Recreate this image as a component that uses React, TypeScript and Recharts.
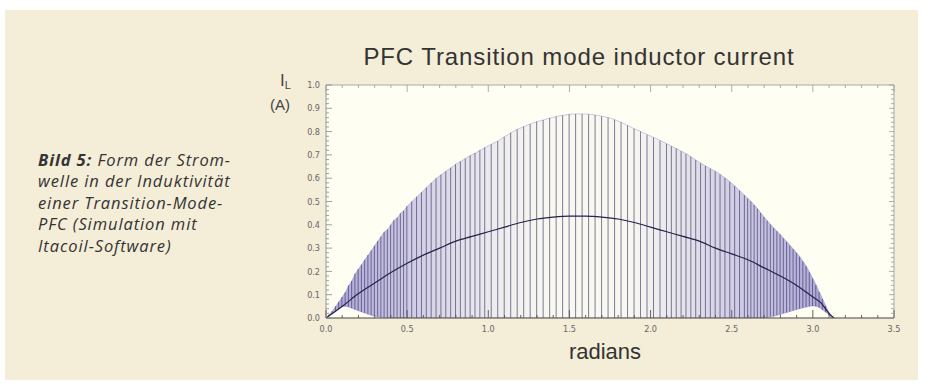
import { Area, Bar, CartesianGrid, ComposedChart, Line, XAxis, YAxis } from "recharts";

// switching cycles: x position (rad) and peak current (A)
const spikeX = [
  0, 0.02, 0.04, 0.06, 0.08, 0.1, 0.12, 0.14, 0.16, 0.18, 0.2, 0.22, 0.24, 0.26, 0.28, 0.3, 0.32, 0.34, 0.36, 0.38,
  0.4, 0.42, 0.44, 0.46, 0.48, 0.5,
  0.53, 0.56, 0.59, 0.62, 0.65, 0.68, 0.71, 0.74, 0.77, 0.8, 0.83, 0.86, 0.89, 0.92, 0.95, 0.98,
  1.02, 1.06, 1.1, 1.14, 1.18, 1.22, 1.26, 1.3, 1.34, 1.38, 1.42, 1.46, 1.5, 1.54, 1.58, 1.62, 1.66, 1.7, 1.74, 1.78,
  1.82, 1.86, 1.9, 1.94, 1.98, 2.02, 2.06, 2.1,
  2.13, 2.16, 2.19, 2.22, 2.25, 2.28, 2.31, 2.34, 2.37, 2.4, 2.43, 2.46, 2.49, 2.52, 2.55, 2.58,
  2.6, 2.62, 2.64, 2.66, 2.68, 2.7, 2.72, 2.74, 2.76, 2.78, 2.8, 2.82, 2.84, 2.86, 2.88, 2.9, 2.92, 2.94, 2.96, 2.98,
  3.0, 3.02, 3.04, 3.06, 3.08, 3.1, 3.12,
];
const spikePeak = [
  0, 0.015, 0.03, 0.05, 0.07, 0.09, 0.11, 0.14, 0.16, 0.19, 0.21, 0.23, 0.25, 0.27, 0.29, 0.31, 0.33, 0.35, 0.37, 0.38,
  0.4, 0.42, 0.43, 0.45, 0.46, 0.48,
  0.5, 0.52, 0.54, 0.56, 0.58, 0.6, 0.615, 0.63, 0.645, 0.66, 0.672, 0.685, 0.697, 0.708, 0.72, 0.732,
  0.746, 0.76, 0.778, 0.795, 0.81, 0.822, 0.833, 0.843, 0.85, 0.858, 0.865, 0.87, 0.874, 0.876, 0.876, 0.875, 0.871,
  0.866, 0.86, 0.851, 0.84, 0.826, 0.812, 0.8, 0.787, 0.775, 0.762, 0.748,
  0.737, 0.727, 0.716, 0.705, 0.692, 0.678, 0.664, 0.652, 0.641, 0.63, 0.616, 0.601, 0.585, 0.566, 0.546, 0.527,
  0.513, 0.5, 0.485, 0.469, 0.451, 0.433, 0.417, 0.401, 0.386, 0.372, 0.358, 0.342, 0.327, 0.311, 0.296, 0.28, 0.263,
  0.243, 0.222, 0.196, 0.17, 0.142, 0.112, 0.082, 0.052, 0.022, 0,
];

// lower edge of the shaded band near the zero crossings
const floorX = [
  0.02, 0.04, 0.06, 0.08, 0.1, 0.12, 0.14, 0.16, 0.18, 0.2, 0.22, 0.24, 0.26, 0.28, 0.3, 0.32, 0.34, 0.36, 0.38,
  2.72, 2.74, 2.76, 2.78, 2.8, 2.82, 2.84, 2.86, 2.88, 2.9, 2.92, 2.94, 2.96, 2.98, 3.0, 3.02, 3.04, 3.06, 3.08, 3.1,
];
const floorY = [
  0.01, 0.02, 0.03, 0.04, 0.048, 0.05, 0.047, 0.042, 0.036, 0.031, 0.026, 0.021, 0.016, 0.012, 0.008, 0.005, 0.003,
  0.002, 0.001,
  0.002, 0.005, 0.008, 0.012, 0.015, 0.02, 0.024, 0.028, 0.032, 0.036, 0.04, 0.044, 0.047, 0.05, 0.052, 0.05, 0.045,
  0.035, 0.025, 0.012,
];

// average current
const avgX = [
  0, 0.05, 0.1, 0.2, 0.3, 0.4, 0.5, 0.6, 0.7, 0.8, 0.9, 1.0, 1.1, 1.2, 1.3, 1.4, 1.5, 1.6, 1.7, 1.8, 1.9, 2.0, 2.1,
  2.2, 2.3, 2.4, 2.5, 2.6, 2.7, 2.8, 2.9, 3.0, 3.05, 3.1, 3.13,
];
const avgY = [
  0, 0.025, 0.05, 0.105, 0.15, 0.195, 0.235, 0.27, 0.3, 0.33, 0.35, 0.37, 0.39, 0.41, 0.425, 0.433, 0.437, 0.437,
  0.433, 0.425, 0.41, 0.39, 0.37, 0.35, 0.33, 0.3, 0.275, 0.25, 0.215, 0.18, 0.14, 0.09, 0.065, 0.02, 0,
];

const xMinor = [
  0, 0.1, 0.2, 0.3, 0.4, 0.5, 0.6, 0.7, 0.8, 0.9, 1, 1.1, 1.2, 1.3, 1.4, 1.5, 1.6, 1.7, 1.8, 1.9, 2, 2.1, 2.2, 2.3,
  2.4, 2.5, 2.6, 2.7, 2.8, 2.9, 3, 3.1, 3.2, 3.3, 3.4, 3.5,
];
const yMinor = [
  0, 0.02, 0.04, 0.06, 0.08, 0.1, 0.12, 0.14, 0.16, 0.18, 0.2, 0.22, 0.24, 0.26, 0.28, 0.3, 0.32, 0.34, 0.36, 0.38,
  0.4, 0.42, 0.44, 0.46, 0.48, 0.5, 0.52, 0.54, 0.56, 0.58, 0.6, 0.62, 0.64, 0.66, 0.68, 0.7, 0.72, 0.74, 0.76, 0.78,
  0.8, 0.82, 0.84, 0.86, 0.88, 0.9, 0.92, 0.94, 0.96, 0.98, 1,
];

const spikes = spikeX.map((x, i) => {
  const k = floorX.indexOf(x);
  return { x, peak: spikePeak[i], floor: k >= 0 ? floorY[k] : 0 };
});
const avgData = avgX.map((x, i) => ({ x, avg: avgY[i] }));

const isMajor = (v: number, step: number) => Math.abs(v / step - Math.round(v / step)) < 1e-6;
const tickFont = "'DejaVu Sans Condensed', 'DejaVu Sans', sans-serif";

const LeftTick = ({ x, y, payload }: any) => {
  const ax = x + 9;
  const major = isMajor(payload.value, 0.1);
  return (
    <g>
      <line x1={ax} x2={ax + (major ? 6 : 3)} y1={y} y2={y} stroke="#888" strokeWidth={0.8} />
      {major && (
        <text x={ax - 6} y={y} dy="0.35em" textAnchor="end" fontSize={9} fontFamily={tickFont} fill="#666">
          {payload.value.toFixed(1)}
        </text>
      )}
    </g>
  );
};

const RightTick = ({ x, y, payload }: any) => {
  const ax = x - 1;
  const major = isMajor(payload.value, 0.1);
  return <line x1={ax} x2={ax - (major ? 5 : 3)} y1={y} y2={y} stroke="#999" strokeWidth={0.8} />;
};

const BottomTick = ({ x, y, payload }: any) => {
  const ay = y - 9;
  const major = isMajor(payload.value, 0.5);
  return (
    <g>
      <line x1={x} x2={x} y1={ay} y2={ay - (major ? 8 : 3)} stroke="#555" strokeWidth={0.9} />
      {major && (
        <text x={x} y={ay + 8} dy="0.71em" textAnchor="middle" fontSize={9} fontFamily={tickFont} fill="#666">
          {payload.value.toFixed(1)}
        </text>
      )}
    </g>
  );
};

const TopTick = ({ x, y, payload }: any) => {
  const ay = y + 1;
  const major = isMajor(payload.value, 0.5);
  return <line x1={x} x2={x} y1={ay} y2={ay + (major ? 7 : 3)} stroke="#999" strokeWidth={0.8} />;
};

const captionStyle: React.CSSProperties = {
  position: "absolute",
  left: 38,
  fontFamily: "'Open Sans', 'Noto Sans', sans-serif",
  fontStyle: "italic",
  fontSize: 16.5,
  letterSpacing: 0.9,
  color: "#333",
  whiteSpace: "nowrap",
  lineHeight: "20px",
};

const captionLines = [
  "welle in der Induktivität",
  "einer Transition-Mode-",
  "PFC (Simulation mit",
  "Itacoil-Software)",
];

const sans = "'Liberation Sans', Arial, sans-serif";

export default function App() {
  return (
    <div style={{ position: "absolute", left: 0, top: 0, width: 926, height: 390, background: "#fff" }}>
      <div style={{ position: "absolute", left: 5, top: 10, width: 913, height: 370, background: "#f4edd8" }} />

      <div style={{ ...captionStyle, top: 150 }}>
        <b>Bild 5:</b> Form der Strom-
      </div>
      {captionLines.map((t, i) => (
        <div key={t} style={{ ...captionStyle, top: 171 + i * 21.5 }}>
          {t}
        </div>
      ))}

      <div
        style={{
          position: "absolute",
          left: 280,
          width: 598,
          top: 43,
          textAlign: "center",
          fontFamily: sans,
          fontSize: 24,
          letterSpacing: 0.9,
          lineHeight: "28px",
          color: "#333",
        }}
      >
        PFC Transition mode inductor current
      </div>

      <div
        style={{
          position: "absolute",
          left: 280,
          top: 72,
          fontFamily: sans,
          fontSize: 17,
          color: "#444",
          lineHeight: "17px",
        }}
      >
        I<sub style={{ fontSize: 11, verticalAlign: -3 }}>L</sub>
      </div>
      <div
        style={{
          position: "absolute",
          left: 270,
          top: 97,
          fontFamily: sans,
          fontSize: 15,
          color: "#444",
          lineHeight: "16px",
        }}
      >
        (A)
      </div>

      <div
        style={{
          position: "absolute",
          left: 505,
          width: 200,
          top: 340,
          textAlign: "center",
          fontFamily: sans,
          fontSize: 22,
          lineHeight: "24px",
          color: "#333",
        }}
      >
        radians
      </div>

      <div style={{ position: "absolute", left: 0, top: 0 }}>
        <ComposedChart
          width={926}
          height={390}
          data={spikes}
          margin={{ top: 83, right: 30, bottom: 42, left: 286 }}
        >
          <defs>
            <linearGradient id="band" x1="0" y1="0" x2="1" y2="0">
              <stop offset="0%" stopColor="#5b4fbd" stopOpacity={0.85} />
              <stop offset="8%" stopColor="#6357c2" stopOpacity={0.72} />
              <stop offset="20%" stopColor="#6a5fc6" stopOpacity={0.45} />
              <stop offset="33%" stopColor="#7a70c8" stopOpacity={0.22} />
              <stop offset="45%" stopColor="#8a82c8" stopOpacity={0.07} />
              <stop offset="60%" stopColor="#8a82c8" stopOpacity={0.09} />
              <stop offset="70%" stopColor="#7a70c8" stopOpacity={0.3} />
              <stop offset="80%" stopColor="#6a5fc6" stopOpacity={0.5} />
              <stop offset="90%" stopColor="#6357c2" stopOpacity={0.68} />
              <stop offset="100%" stopColor="#5b4fbd" stopOpacity={0.85} />
            </linearGradient>
          </defs>
          <CartesianGrid horizontal={false} vertical={false} fill="#fefef3" />
          <XAxis
            dataKey="x"
            type="number"
            domain={[0, 3.5]}
            ticks={xMinor}
            interval={0}
            tickSize={1}
            tickMargin={8}
            tickLine={false}
            tick={<BottomTick />}
            stroke="#4a4540"
            height={30}
            allowDataOverflow
          />
          <XAxis
            xAxisId="top"
            orientation="top"
            dataKey="x"
            type="number"
            domain={[0, 3.5]}
            ticks={xMinor}
            interval={0}
            tickSize={1}
            tickMargin={0}
            tickLine={false}
            tick={<TopTick />}
            stroke="#aaa"
            height={2}
            allowDataOverflow
          />
          <YAxis
            type="number"
            domain={[0, 1]}
            ticks={yMinor}
            interval={0}
            tickSize={1}
            tickMargin={8}
            tickLine={false}
            tick={<LeftTick />}
            stroke="#999"
            width={40}
            allowDataOverflow
          />
          <YAxis
            yAxisId="right"
            orientation="right"
            type="number"
            domain={[0, 1]}
            ticks={yMinor}
            interval={0}
            tickSize={1}
            tickMargin={0}
            tickLine={false}
            tick={<RightTick />}
            stroke="#aaa"
            width={2}
            allowDataOverflow
          />
          <Area
            type="linear"
            dataKey={(d: any) => [d.floor, d.peak]}
            stroke="#7a70c0"
            strokeWidth={0.6}
            strokeOpacity={0.6}
            fill="url(#band)"
            isAnimationActive={false}
            dot={false}
            activeDot={false}
          />
          <Bar
            dataKey={(d: any) => [d.floor, d.peak]}
            barSize={1}
            fill="#35305e"
            fillOpacity={0.62}
            isAnimationActive={false}
          />
          <Line
            data={avgData}
            dataKey="avg"
            type="monotone"
            stroke="#26224a"
            strokeWidth={1.2}
            dot={false}
            activeDot={false}
            isAnimationActive={false}
          />
        </ComposedChart>
      </div>
    </div>
  );
}
